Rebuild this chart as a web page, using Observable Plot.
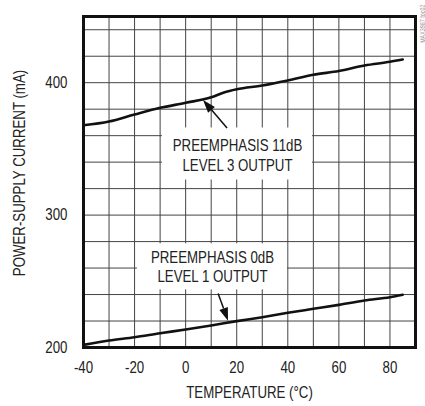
<!DOCTYPE html>
<html>
<head>
<meta charset="utf-8">
<script src="https://cdn.jsdelivr.net/npm/d3@7"></script>
<script src="https://cdn.jsdelivr.net/npm/@observablehq/plot@0.6"></script>
<style>
  html, body { margin: 0; padding: 0; background: #fff; }
  #chart svg { display: block; }
</style>
</head>
<body>
<div id="chart"></div>
<script>
// ---- data ----
const temps11 = [-40, -30, -20, -10, 0, 10, 15, 20, 30, 40, 50, 60, 70, 80, 85];
const current11 = [367.8, 370.7, 376, 381, 384.8, 389, 392.6, 395, 397.9, 401.7, 406, 408.8, 413, 415.8, 417.5];
const temps0 = [-40, -30, -20, -10, 0, 10, 20, 30, 40, 50, 60, 70, 80, 85];
const current0 = [202, 205.3, 207.8, 210.8, 213.6, 216.6, 219.9, 222.9, 226.2, 229.2, 232.2, 235.5, 238, 239.8];
const xTicks = [-40, -20, 0, 20, 40, 60, 80];
const yTicks = [200, 300, 400];
const xGrid = [-30, -20, -10, 0, 10, 20, 30, 40, 50, 60, 70, 80];
const yGrid = [220, 240, 260, 280, 300, 320, 340, 360, 380, 400, 420, 440];
const labelLines11 = ["PREEMPHASIS 11dB", "LEVEL 3 OUTPUT"];
const labelLines0 = ["PREEMPHASIS 0dB", "LEVEL 1 OUTPUT"];
const xTitle = "TEMPERATURE (°C)";
const yTitle = "POWER-SUPPLY CURRENT (mA)";
const watermark = "MAX3987 toc02";

// annotation placement (data units)
const boxes = [
  {x1: -9.1, x2: 49.7, y1: 326.5, y2: 365.8},
  {x1: -18.9, x2: 39.9, y1: 243.5, y2: 278.3}
];
const labels = [
  {x: 20.3, y: 352.6, text: labelLines11[0]},
  {x: 20.3, y: 337.3, text: labelLines11[1]},
  {x: 10.5, y: 268.0, text: labelLines0[0]},
  {x: 10.5, y: 253.0, text: labelLines0[1]}
];
const arrows = [
  {x1: 16.4, y1: 365.4, x2: 7.0, y2: 386.6},
  {x1: 12.9, y1: 240.4, x2: 16.8, y2: 219.8}
];

const s11 = temps11.map((t, i) => ({t, v: current11[i]}));
const s0 = temps0.map((t, i) => ({t, v: current0[i]}));

const FONT = "'Liberation Sans', Arial, sans-serif";
const NARROW = 0.83; // horizontal squeeze to mimic a condensed face

// filled-head arrows drawn through the plot's scales
function arrowMark(index, scales) {
  const g = d3.create("svg:g");
  for (const a of arrows) {
    const x1 = scales.x(a.x1), y1 = scales.y(a.y1);
    const x2 = scales.x(a.x2), y2 = scales.y(a.y2);
    const ang = Math.atan2(y2 - y1, x2 - x1);
    const hl = 13, hw = 4.5;
    const bx = x2 - hl * Math.cos(ang), by = y2 - hl * Math.sin(ang);
    g.append("line").attr("x1", x1).attr("y1", y1).attr("x2", bx).attr("y2", by)
      .attr("stroke", "#111").attr("stroke-width", 1.5);
    const px = -Math.sin(ang) * hw, py = Math.cos(ang) * hw;
    g.append("path")
      .attr("d", `M${x2},${y2}L${bx + px},${by + py}L${bx - px},${by - py}Z`)
      .attr("fill", "#111");
  }
  return g.node();
}

const chart = Plot.plot({
  width: 425,
  height: 406,
  marginLeft: 83,
  marginRight: 10,
  marginTop: 16,
  marginBottom: 59,
  style: {fontFamily: FONT, background: "#fff", color: "#222"},
  x: {domain: [-40, 90]},
  y: {domain: [200, 450]},
  marks: [
    Plot.ruleX(xGrid, {stroke: "#444", strokeWidth: 1}),
    Plot.ruleY(yGrid, {stroke: "#444", strokeWidth: 1}),
    Plot.rect(boxes, {x1: "x1", x2: "x2", y1: "y1", y2: "y2", fill: "#fff"}),
    Plot.line(s11, {x: "t", y: "v", stroke: "#111", strokeWidth: 2.6, curve: "monotone-x"}),
    Plot.line(s0, {x: "t", y: "v", stroke: "#111", strokeWidth: 2.6, curve: "monotone-x"}),
    Plot.frame({stroke: "#111", strokeWidth: 3}),
    Plot.text(labels, {x: "x", y: "y", text: "text", fontSize: 16, fill: "#222"}),
    arrowMark,
    Plot.axisX(xTicks, {tickSize: 0, tickPadding: 14, fontSize: 16, label: null, tickFormat: d => `${d}`}),
    Plot.axisY(yTicks, {tickSize: 0, tickPadding: 16, fontSize: 16, label: null, tickFormat: d => `${d}`}),
    Plot.text([xTitle], {frameAnchor: "bottom", dy: 50, fontSize: 16, fill: "#222"}),
    Plot.text([yTitle], {frameAnchor: "left", textAnchor: "middle", dx: -63.5, dy: -9, rotate: -90, fontSize: 16, fill: "#222"}),
    Plot.text([watermark], {frameAnchor: "top-right", dx: 5, dy: -12, rotate: -90, textAnchor: "end", fontSize: 6.5, fill: "#999"})
  ]
});

// squeeze every text horizontally (along its own baseline) around its anchor
chart.querySelectorAll("text").forEach(el => {
  const t = el.getAttribute("transform") || "";
  const xa = el.getAttribute("x");
  if (xa !== null && /^-?[\d.]+$/.test(xa.trim())) el.setAttribute("x", (+xa) / NARROW);
  el.setAttribute("transform", `${t} scale(${NARROW},1)`);
});

document.getElementById("chart").appendChild(chart);
</script>
</body>
</html>
